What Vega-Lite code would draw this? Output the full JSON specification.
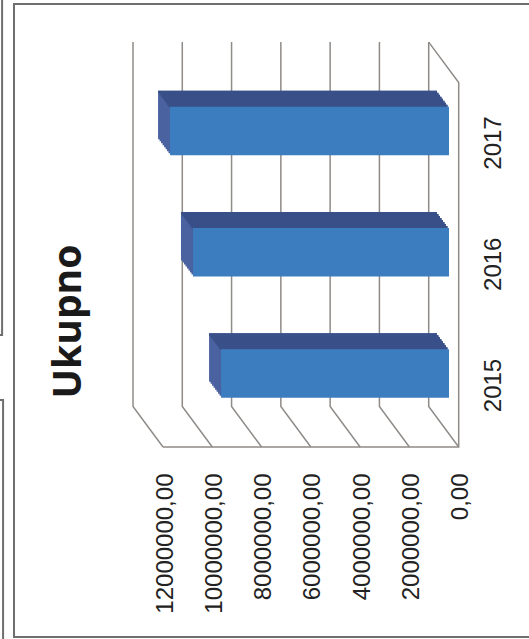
{"$schema":"https://vega.github.io/schema/vega-lite/v6.json","width":529,"height":639,"autosize":"none","padding":0,"background":"#ffffff","config":{"view":{"stroke":null}},
"title":{"text":"Ukupno","orient":"left","anchor":"middle","angle":-90,"offset":-124,"font":"Open Sans","fontWeight":"bold","fontSize":39,"color":"#1a1a1a","baseline":"alphabetic","dx":-2},
"datasets":{"bars":[{"year":"2015","value":9250000},{"year":"2016","value":10390000},{"year":"2017","value":11320000}],
"walls":[
{"line":"g0","pos":1217400,"h":100,"i":0},{"line":"g0","pos":1217400,"h":10,"i":1},{"line":"g0","pos":0,"h":0,"i":2},
{"line":"g2","pos":3217400,"h":100,"i":0},{"line":"g2","pos":3217400,"h":10,"i":1},{"line":"g2","pos":2000000,"h":0,"i":2},
{"line":"g4","pos":5217400,"h":100,"i":0},{"line":"g4","pos":5217400,"h":10,"i":1},{"line":"g4","pos":4000000,"h":0,"i":2},
{"line":"g6","pos":7217400,"h":100,"i":0},{"line":"g6","pos":7217400,"h":10,"i":1},{"line":"g6","pos":6000000,"h":0,"i":2},
{"line":"g8","pos":9217400,"h":100,"i":0},{"line":"g8","pos":9217400,"h":10,"i":1},{"line":"g8","pos":8000000,"h":0,"i":2},
{"line":"g10","pos":11217400,"h":100,"i":0},{"line":"g10","pos":11217400,"h":10,"i":1},{"line":"g10","pos":10000000,"h":0,"i":2},
{"line":"g12","pos":13217400,"h":100,"i":0},{"line":"g12","pos":13217400,"h":10,"i":1},{"line":"g12","pos":12000000,"h":0,"i":2},
{"line":"edge","pos":1217400,"h":100,"i":0},{"line":"edge","pos":0,"h":90,"i":1},{"line":"edge","pos":0,"h":0,"i":2},{"line":"edge","pos":12000000,"h":0,"i":3}],
"frame":[
{"line":"a","pos":-2853000,"h":109.4,"i":0},{"line":"a","pos":18047000,"h":109.4,"i":1},{"line":"a","pos":18047000,"h":-46.9,"i":2},{"line":"a","pos":-2853000,"h":-46.9,"i":3},
{"line":"b","pos":18530000,"h":110.4,"i":0},{"line":"b","pos":18530000,"h":27.65,"i":1},{"line":"b","pos":18615000,"h":27.65,"i":2},
{"line":"c","pos":18615000,"h":11.6,"i":0},{"line":"c","pos":18490000,"h":11.6,"i":1},{"line":"c","pos":18490000,"h":-47.4,"i":2}]},
"layer":[
{"layer":[
{"data":{"name":"frame"},"mark":{"type":"line","stroke":"#6e6e6e","strokeWidth":2},"encoding":{"x":{"field":"pos","type":"quantitative","scale":{"domain":[18615000,-2853000],"nice":false,"zero":false},"axis":{"title":null,"orient":"bottom","offset":-166,"values":[0,2000000,4000000,6000000,8000000,10000000,12000000],"labelExpr":"format(datum.value,'d')+',00'","labelFont":"Liberation Sans","labelFontSize":24,"labelColor":"#222222","labelAngle":-90,"labelAlign":"right","labelBaseline":"middle","labelPadding":0,"labelOffset":2,"labelOverlap":false,"labelFlush":false,"ticks":false,"domain":false,"grid":false}},"y":{"field":"h","type":"quantitative","scale":{"domain":[-47.4,110.4],"nice":false,"zero":false},"axis":null},"detail":{"field":"line"},"order":{"field":"i"}}},
{"data":{"name":"walls"},"mark":{"type":"line","stroke":"#8f8b88","strokeWidth":1.5},"encoding":{"x":{"field":"pos","type":"quantitative"},"y":{"field":"h","type":"quantitative"},"detail":{"field":"line"},"order":{"field":"i"}}}
]},
{"data":{"name":"bars"},
"encoding":{"x":{"field":"value","type":"quantitative"},
"y":{"field":"year","type":"nominal","sort":["2017","2016","2015"],"scale":{"type":"band","range":[70.4,434.1],"paddingInner":0.6,"paddingOuter":0.3},"axis":{"title":null,"orient":"right","offset":-36,"labelFont":"Liberation Sans","labelFontSize":24,"labelColor":"#222222","labelAngle":-90,"labelAlign":"center","labelBaseline":"middle","labelPadding":0,"labelOffset":12,"ticks":false,"domain":false,"grid":false}}},
"layer":[
{"mark":{"type":"bar","color":"#4a62a0","xOffset":-11.2,"yOffset":-2}},
{"mark":{"type":"bar","color":"#4a62a0","xOffset":-12.7,"yOffset":-4}},
{"mark":{"type":"bar","color":"#4a62a0","xOffset":-14.2,"yOffset":-6}},
{"mark":{"type":"bar","color":"#4a62a0","xOffset":-15.7,"yOffset":-8}},
{"mark":{"type":"bar","color":"#4a62a0","xOffset":-17.2,"yOffset":-10}},
{"mark":{"type":"bar","color":"#4a62a0","xOffset":-18.7,"yOffset":-12}},
{"mark":{"type":"bar","color":"#4a62a0","xOffset":-20.2,"yOffset":-14}},
{"mark":{"type":"bar","color":"#4a62a0","xOffset":-21.7,"yOffset":-16}},
{"mark":{"type":"bar","color":"#384f88","height":2.6,"xOffset":-11.2,"yOffset":-25}},
{"mark":{"type":"bar","color":"#384f88","height":2.6,"xOffset":-12.7,"yOffset":-27}},
{"mark":{"type":"bar","color":"#384f88","height":2.6,"xOffset":-14.2,"yOffset":-29}},
{"mark":{"type":"bar","color":"#384f88","height":2.6,"xOffset":-15.7,"yOffset":-31}},
{"mark":{"type":"bar","color":"#384f88","height":2.6,"xOffset":-17.2,"yOffset":-33}},
{"mark":{"type":"bar","color":"#384f88","height":2.6,"xOffset":-18.7,"yOffset":-35}},
{"mark":{"type":"bar","color":"#384f88","height":2.6,"xOffset":-20.2,"yOffset":-37}},
{"mark":{"type":"bar","color":"#384f88","height":2.6,"xOffset":-21.7,"yOffset":-39}},
{"mark":{"type":"bar","color":"#3c7dbf","xOffset":-9.7}}
]}
],
"resolve":{"scale":{"y":"independent"}}}
